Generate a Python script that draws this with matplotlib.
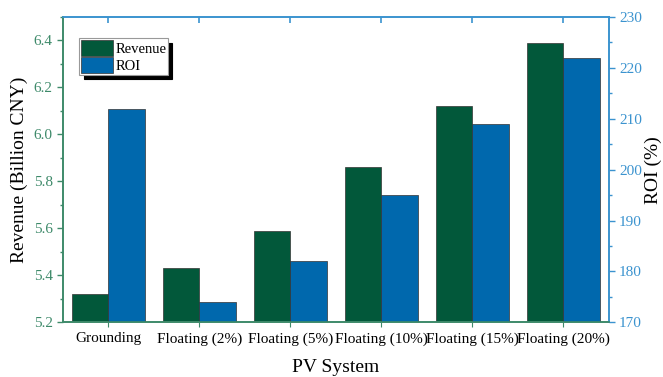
import matplotlib.pyplot as plt
from matplotlib.ticker import MultipleLocator
import numpy as np

plt.rcParams['font.family'] = ['Liberation Serif', 'DejaVu Serif']

systems = ["Grounding", "Floating (2%)", "Floating (5%)", "Floating (10%)",
           "Floating (15%)", "Floating (20%)"]
revenue = [5.32, 5.43, 5.59, 5.86, 6.12, 6.39]
roi = [212, 174, 182, 195, 209, 222]

green = "#02583A"
blue = "#0068AD"
green_ax = "#3E8A6A"
blue_ax = "#3B93CF"

x = np.arange(len(systems))
w = 0.4

fig, ax = plt.subplots(figsize=(6.63, 3.77), dpi=100)
fig.subplots_adjust(left=0.095, right=0.918, top=0.955, bottom=0.145)
ax2 = ax.twinx()

b1 = ax.bar(x - w / 2, revenue, w, color=green, edgecolor="#333333", linewidth=0.5, label="Revenue")
b2 = ax2.bar(x + w / 2, roi, w, color=blue, edgecolor="#333333", linewidth=0.5, label="ROI")

ax.set_xlim(-0.5, 5.5)
ax.set_ylim(5.2, 6.5)
ax2.set_ylim(170, 230)

ax.set_xticks(x)
ax.set_xticklabels(systems, fontsize=11)
ax.yaxis.set_major_locator(MultipleLocator(0.2))
ax.yaxis.set_minor_locator(MultipleLocator(0.1))
ax2.yaxis.set_major_locator(MultipleLocator(10))
ax2.yaxis.set_minor_locator(MultipleLocator(5))

ax.tick_params(axis="y", colors=green_ax, labelsize=11, direction="out", length=4, width=1)
ax.tick_params(axis="y", which="minor", colors=green_ax, length=2.5, width=1)
ax.tick_params(axis="x", direction="out", length=3.5, colors=green_ax, labelcolor="black", top=False)
ax2.tick_params(axis="y", colors=blue_ax, labelsize=11, direction="out", length=4, width=1)
ax2.tick_params(axis="y", which="minor", colors=blue_ax, length=2.5, width=1)

# ticks on top edge, pointing in
axt = ax.secondary_xaxis("top")
axt.set_xticks(x)
axt.set_xticklabels([])
axt.tick_params(direction="in", length=4, width=1.2, colors=blue_ax)
axt.spines["top"].set_visible(False)

for a in (ax, ax2):
    a.spines["left"].set_color(green_ax)
    a.spines["bottom"].set_color(green_ax)
    a.spines["right"].set_color(blue_ax)
    a.spines["top"].set_color(blue_ax)
    for s in a.spines.values():
        s.set_linewidth(1.2)

ax.set_xlabel("PV System", fontsize=14, labelpad=10)
ax.set_ylabel("Revenue (Billion CNY)", fontsize=14)
ax2.set_ylabel("ROI (%)", fontsize=14, labelpad=2)

leg = ax2.legend([b1, b2], ["Revenue", "ROI"], loc="upper left", bbox_to_anchor=(0.03, 0.93),
                 fontsize=10.5, shadow={"color": "black", "alpha": 1, "ox": 3, "oy": -3},
                 fancybox=False, framealpha=1, edgecolor="#999999",
                 handlelength=2.2, handleheight=1.3, handletextpad=0.2, borderpad=0.1,
                 labelspacing=0.1, borderaxespad=0)
leg.get_frame().set_linewidth(0.8)

plt.savefig("out.png", dpi=100)
plt.close()
